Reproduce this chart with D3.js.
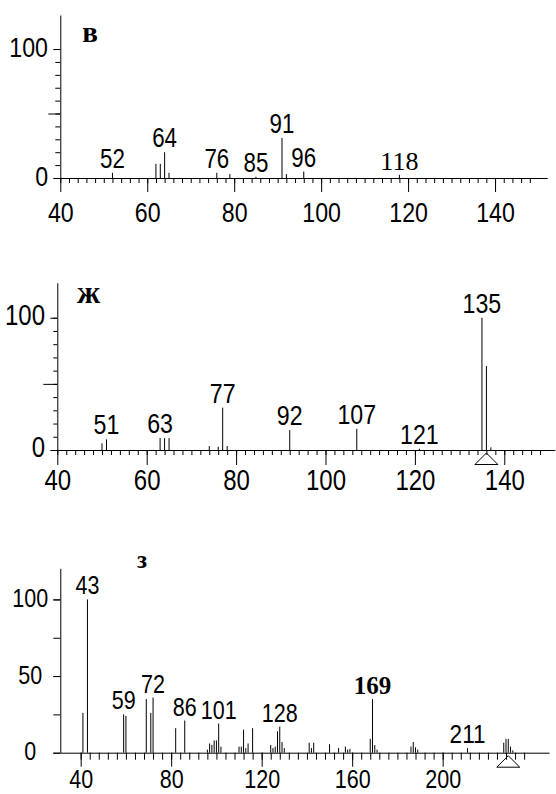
<!DOCTYPE html>
<html>
<head>
<meta charset="utf-8">
<script src="https://cdn.jsdelivr.net/npm/d3@7"></script>
<style>
  body { margin: 0; background: #fff; }
  svg { display: block; }
</style>
</head>
<body>
<div id="chart"></div>
<script>
// spectrum в
const mzB  = [52, 62, 63, 64, 65, 76, 79, 85, 91, 92, 96, 118];
const intB = [4, 11, 11, 20, 4, 4, 3, 1, 31, 3, 5, 2.5];
const labelsB = [52, 64, 76, 85, 91, 96, 118];

// spectrum ж
const mzZh  = [50, 51, 63, 64, 65, 74, 76, 77, 78, 92, 107, 121, 135, 136, 137];
const intZh = [5, 8, 9, 9, 9, 3, 2.5, 32, 3, 15, 16, 1, 100, 63.5, 2];
const labelsZh = [51, 63, 77, 92, 107, 121, 135];

// spectrum з
const mzZ  = [41, 43, 59, 60, 69, 71, 72, 82, 86, 96, 97, 98, 99, 100, 101, 102,
              110, 111, 112, 113, 114, 116, 124, 125, 126, 127, 128, 129, 130,
              141, 142, 143, 150, 154, 157, 158, 159, 168, 169, 170, 171,
              186, 187, 188, 189, 211, 227, 228, 229, 230, 231];
const intZ = [26, 100, 25, 24, 35, 26, 36, 16, 21, 2, 6, 5, 8, 8, 19, 4,
              4, 4, 15, 3, 6, 16, 5, 3, 4, 14, 17, 7, 3,
              6.5, 3, 6.5, 5.5, 3, 4, 2, 2.5, 9, 35, 5, 2,
              4, 7, 3.5, 2, 3, 6.5, 9, 9, 4, 1.5];
const labelsZ = [43, 59, 72, 86, 101, 128, 169, 211];

const SANS = '"Liberation Sans", Arial, sans-serif';
const SERIF = '"Liberation Serif", "Times New Roman", serif';
const DIGIT_W = 0.46; // narrow digit width, em

// squeeze sans text into a narrow face
function narrow(sel, size) {
  sel.style("font-family", SANS)
    .style("font-size", size + "px")
    .attr("fill", "#000")
    .attr("lengthAdjust", "spacingAndGlyphs")
    .attr("textLength", function() { return this.textContent.length * DIGIT_W * size; });
}

const panels = [
  { title: "в", mz: mzB, ints: intB, labels: labelsB,
    xDomain: [40, 152], xRange: [60.3, 547.2], yDomain: [0, 126.4], yRange: [178, 15],
    xMinor: d3.range(40, 149, 2), xMajor: d3.range(40, 141, 20), xMinorLen: 5, xMajorLen: 14, xLabelDy: 44,
    yMinor: d3.range(0, 101, 10), yMid: [50], yMidLen: 12, yLab: [0, 100], yMinorLen: 5, yLabLen: 7,
    yLabX: -12.3, yLabAnchor: "end", yLabDy: 7,
    titlePos: [90, 42], titleSize: 29, tickFont: 28, peakFont: 27, serif: [118], bold: [], marker: null },
  { title: "ж", mz: mzZh, ints: intZh, labels: labelsZh,
    xDomain: [40, 151.3], xRange: [57.3, 554.8], yDomain: [0, 126.5], yRange: [450, 282.7],
    xMinor: d3.range(40, 149, 2), xMajor: d3.range(40, 141, 20), xMinorLen: 5, xMajorLen: 15, xLabelDy: 40,
    yMinor: d3.range(0, 101, 10), yMid: [50], yMidLen: 14, yLab: [0, 100], yMinorLen: 4, yLabLen: 7,
    yLabX: -12.3, yLabAnchor: "end", yLabDy: 6.5,
    titlePos: [88.5, 303], titleSize: 32, tickFont: 29, peakFont: 28, serif: [], bold: [], marker: 136 },
  { title: "з", mz: mzZ, ints: intZ, labels: labelsZ,
    xDomain: [31, 247], xRange: [60.3, 549], yDomain: [0, 120.3], yRange: [752.7, 568.3],
    xMinor: d3.range(40, 237, 4), xMajor: d3.range(40, 201, 40), xMinorLen: 7, xMajorLen: 14, xLabelDy: 35,
    yMinor: [0, 25, 50, 75, 100], yMid: [], yMidLen: 7, yLab: [0, 50, 100], yMinorLen: 7, yLabLen: 7,
    yLabX: -30, yLabAnchor: "middle", yLabDy: 7,
    titlePos: [142, 568], titleSize: 25, tickFont: 26, peakFont: 26, serif: [], bold: [169], marker: 229 }
];

const svg = d3.select("#chart").append("svg")
  .attr("width", 556)
  .attr("height", 794);

panels.forEach(function(p) {
  let x = d3.scaleLinear().domain(p.xDomain).range(p.xRange);
  let y = d3.scaleLinear().domain(p.yDomain).range(p.yRange);
  let base = y(0);
  let g = svg.append("g");

  // x axis: minor then major ticks
  g.append("g")
    .attr("transform", "translate(0," + base + ")")
    .call(d3.axisBottom(x).tickValues(p.xMinor).tickSize(p.xMinorLen).tickSizeOuter(0).tickFormat(""));
  let xMaj = g.append("g")
    .attr("transform", "translate(0," + base + ")")
    .call(d3.axisBottom(x).tickValues(p.xMajor).tickSize(p.xMajorLen).tickSizeOuter(0).tickFormat(d3.format("d")));
  xMaj.select(".domain").remove();
  xMaj.selectAll("text").attr("y", p.xLabelDy).attr("dy", null).call(narrow, p.tickFont);

  // y axis
  g.append("g")
    .attr("transform", "translate(" + x(p.xDomain[0]) + ",0)")
    .call(d3.axisLeft(y).tickValues(p.yMinor).tickSize(p.yMinorLen).tickSizeOuter(0).tickFormat(""));
  if (p.yMid.length) {
    let ym = g.append("g")
      .attr("transform", "translate(" + x(p.xDomain[0]) + ",0)")
      .call(d3.axisLeft(y).tickValues(p.yMid).tickSize(p.yMidLen).tickFormat(""));
    ym.select(".domain").remove();
  }
  let yl = g.append("g")
    .attr("transform", "translate(" + x(p.xDomain[0]) + ",0)")
    .call(d3.axisLeft(y).tickValues(p.yLab).tickSize(p.yLabLen).tickFormat(d3.format("d")));
  yl.select(".domain").remove();
  yl.selectAll("text")
    .attr("x", p.yLabX).attr("dy", null).attr("y", p.yLabDy)
    .attr("text-anchor", p.yLabAnchor)
    .call(narrow, p.tickFont);

  g.selectAll(".tick line, .domain").attr("stroke", "#000").attr("stroke-width", 1);

  // peaks
  let peaks = p.mz.map(function(m, i) { return { mz: m, v: p.ints[i] }; });
  g.selectAll(".peak")
    .data(peaks)
    .enter().append("line")
      .attr("class", "peak")
      .attr("x1", function(d) { return x(d.mz); })
      .attr("x2", function(d) { return x(d.mz); })
      .attr("y1", base)
      .attr("y2", function(d) { return y(d.v); })
      .attr("stroke", "#000")
      .attr("stroke-width", 1);

  // peak labels
  let labs = g.selectAll(".plabel")
    .data(p.labels)
    .enter().append("text")
      .attr("class", "plabel")
      .attr("x", function(d) { return x(d); })
      .attr("y", function(d) { return y(p.ints[p.mz.indexOf(d)]) - 5; })
      .attr("text-anchor", "middle")
      .text(function(d) { return d; });
  labs.filter(function(d) { return p.serif.indexOf(d) < 0 && p.bold.indexOf(d) < 0; })
    .call(narrow, p.peakFont);
  labs.filter(function(d) { return p.serif.indexOf(d) >= 0; })
    .style("font-family", SERIF).style("font-size", (p.peakFont - 1) + "px");
  labs.filter(function(d) { return p.bold.indexOf(d) >= 0; })
    .style("font-family", SERIF).style("font-weight", "bold").style("font-size", (p.peakFont - 1) + "px");

  // molecular ion marker
  if (p.marker !== null) {
    let mx = x(p.marker);
    g.append("path")
      .attr("d", d3.line()([[mx - 11.5, base + 14.5], [mx, base + 3], [mx + 11.5, base + 14.5]]) + "Z")
      .attr("fill", "none")
      .attr("stroke", "#000")
      .attr("stroke-width", 1);
  }

  // panel letter
  g.append("text")
    .attr("x", p.titlePos[0])
    .attr("y", p.titlePos[1])
    .attr("text-anchor", "middle")
    .style("font-family", SERIF)
    .style("font-weight", "bold")
    .style("font-size", p.titleSize + "px")
    .text(p.title);
});
</script>
</body>
</html>
